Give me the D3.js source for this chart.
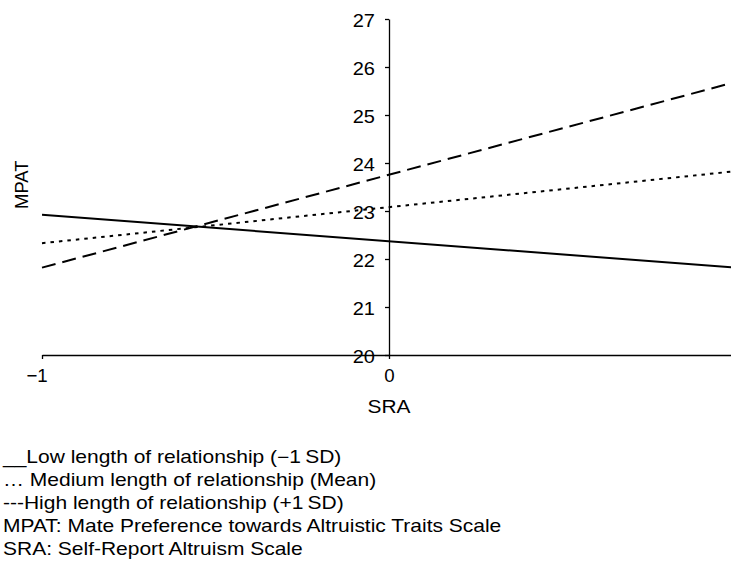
<!DOCTYPE html>
<html lang="en">
<head>
<meta charset="utf-8">
<title>MPAT by SRA</title>
<script src="https://d3js.org/d3.v7.min.js"></script>
<style>
  body { margin: 0; background: #fff; }
  svg text { font-family: "Liberation Sans", Arial, Helvetica, sans-serif; fill: #000; }
  .axis path, .axis line { stroke: #000; stroke-width: 1.3; }
</style>
</head>
<body>
<div id="chart"></div>
<script>
// SRA values the simple slopes are drawn between
var sra = [-1, 1];
// predicted MPAT at SRA = -1 and SRA = +1
var lowLength = [22.92, 21.82];
var meanLength = [22.33, 23.83];
var highLength = [21.82, 25.69];

var yTicks = [20, 21, 22, 23, 24, 25, 26, 27];
var xTicks = [-1, 0];

var legendLines = [
  "__Low length of relationship (\u22121\u2009SD)",
  "\u2026 Medium length of relationship (Mean)",
  "---High length of relationship (+1\u2009SD)",
  "MPAT: Mate Preference towards Altruistic Traits Scale",
  "SRA: Self-Report Altruism Scale"
];

var width = 731, height = 563;

var svg = d3.select("#chart").append("svg")
  .attr("width", width)
  .attr("height", height);

var x = d3.scaleLinear().domain([-1, 1]).range([42, 736]);
var y = d3.scaleLinear().domain([20, 27]).range([355, 19]);

// axes cross at SRA = 0, MPAT = 20
var yAxis = svg.append("g")
  .attr("class", "axis")
  .attr("transform", "translate(" + x(0) + ",0)")
  .call(d3.axisLeft(y).tickValues(yTicks).tickFormat(d3.format("d"))
    .tickSize(4).tickPadding(10).tickSizeOuter(0));
yAxis.selectAll("text")
  .style("font-size", "18.7px")
  .attr("x", -14 / 1.07)
  .attr("dy", "0.4em")
  .attr("transform", "scale(1.07,1)");

var xAxis = svg.append("g")
  .attr("class", "axis")
  .attr("transform", "translate(0," + y(20) + ")")
  .call(d3.axisBottom(x).tickValues(xTicks).tickFormat(d3.format("d"))
    .tickSize(4).tickPadding(10).tickSizeOuter(0));
xAxis.selectAll("text")
  .style("font-size", "18.7px")
  .attr("dx", function(d) { return d < 0 ? "-0.29em" : 0; });

svg.append("text")
  .attr("transform", "translate(" + x(0) + ",413) scale(1.1,1)")
  .style("text-anchor", "middle")
  .style("font-size", "19px")
  .text("SRA");

svg.append("text")
  .attr("transform", "translate(28.3,184.7) rotate(-90)")
  .style("text-anchor", "middle")
  .style("font-size", "18.5px")
  .text("MPAT");

// simple slope lines
var series = [
  { values: lowLength, dash: null },
  { values: meanLength, dash: "3.5,5" },
  { values: highLength, dash: "14,7" }
];

var line = d3.line()
  .x(function(d, i) { return x(sra[i]); })
  .y(function(d) { return y(d); });

svg.selectAll(".slope")
  .data(series)
  .enter()
  .append("path")
  .attr("class", "slope")
  .attr("d", function(d) { return line(d.values); })
  .style("fill", "none")
  .style("stroke", "#000")
  .style("stroke-width", 2)
  .style("stroke-dasharray", function(d) { return d.dash; });

// notes under the chart
svg.selectAll(".note")
  .data(legendLines)
  .enter()
  .append("text")
  .attr("class", "note")
  .attr("transform", function(d, i) {
    return "translate(3," + (463 + i * 23) + ") scale(1.2,1)";
  })
  .style("font-size", "17.5px")
  .text(function(d) { return d; });
</script>
</body>
</html>
